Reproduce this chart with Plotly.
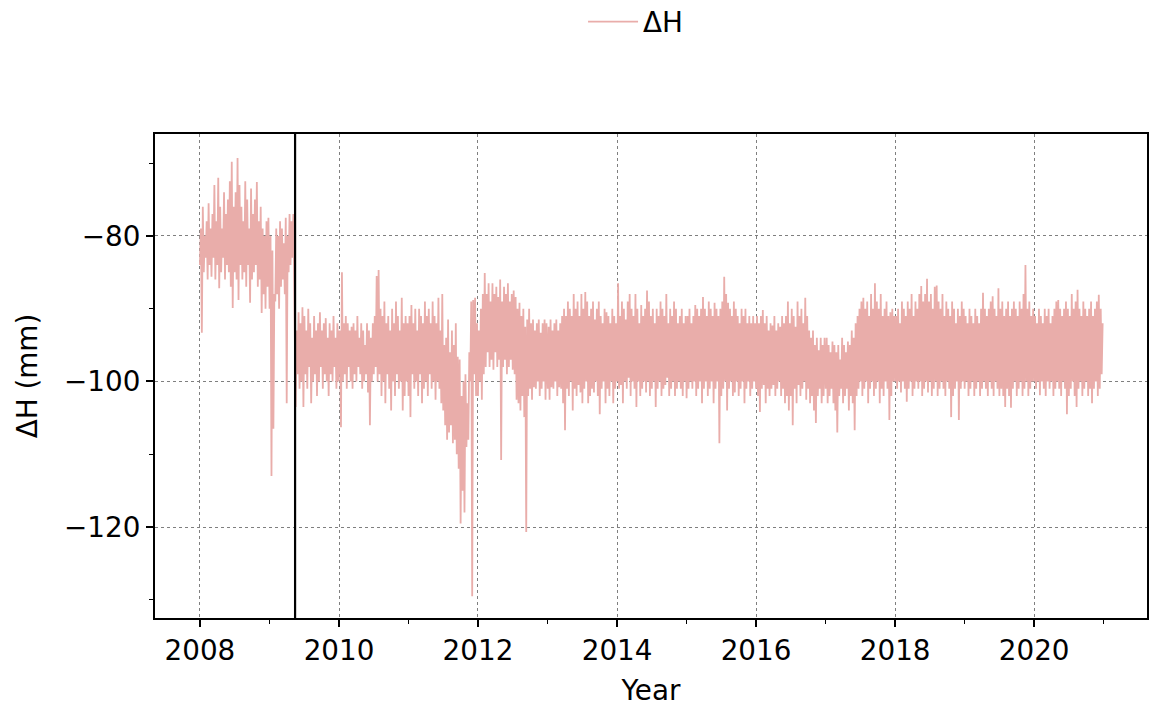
import pandas as pd
import numpy as np
import plotly.graph_objects as go

# ---------------- data: ΔH (mm) ----------------
# For each ~10-day window: the upper (hi_) and lower (lo_) excursion of the series.
hi_2008 = [-79, -76, -80, -78, -75.5, -79, -77, -73, -78, -72, -76, -79,
           -74, -77, -75, -72.5, -69.8, -76, -74, -69.3, -73, -76, -78, -72.5,
           -75, -79, -73.5, -77, -75, -72.6, -78, -76, -79, -80, -78, -77.5]
lo_2008 = [-84, -93.3, -85, -83, -86, -84, -85.6, -83, -86, -84, -87.2, -85,
           -83, -86, -84, -85, -87, -89.9, -85, -86, -88.8, -84, -86, -85,
           -87, -84, -89.2, -86, -85, -84, -87, -86, -90.6, -88, -90, -87]
hi_2009a = [-80, -82, -88, -79, -80, -78, -79, -81, -77.5, -80, -77, -78, -77]
lo_2009a = [-90, -113, -106.5, -89, -88, -90, -87, -86, -88, -103, -85, -84, -83]
hi_2009b = [-93, -90.5, -92, -89.8, -91, -93, -90, -92, -94, -91, -93, -92,
            -90.5, -93, -92, -91.3, -94, -92, -93, -91, -94, -92, -93]
lo_2009b = [-103.5, -99, -101, -100, -103.5, -99, -101, -98, -103, -100, -99, -102,
            -100, -98, -101, -99, -100, -102, -99, -100, -98, -101, -100]
hi_2010 = [-93, -85, -92, -91, -92, -93, -92.5, -92, -93, -91, -94, -92,
           -93, -95, -92, -93, -94, -92, -91, -85.5, -84.7, -90, -91, -89,
           -92, -91, -93, -90, -92, -89, -91, -93, -88.5, -92, -91, -92]
lo_2010 = [-99, -106.3, -100, -99, -101, -98, -100, -101, -99, -100, -98, -99,
           -101, -100, -99, -101.5, -106, -100, -99, -98, -100, -99, -102, -100,
           -103, -99, -101, -104, -100, -102, -99, -101, -100, -104, -102, -100]
hi_2011 = [-91, -89.5, -92, -90, -93, -90, -91, -92, -89, -91, -90, -92,
           -89, -91, -92, -88.5, -93, -88, -95, -94, -91.5, -96, -93, -95,
           -92, -96.6, -97, -102, -100, -99, -103, -96, -89, -88.8, -88.5, -92]
lo_2011 = [-102, -104.9, -99, -101, -100, -102, -99, -103, -101, -100, -102, -99,
           -101, -100, -102.5, -100, -101, -103, -104, -106, -108, -107, -106, -108.5,
           -108, -110, -112, -119.5, -115, -118, -109, -108, -100, -129.5, -99, -102]
hi_2012 = [-93, -90, -88, -85.1, -88, -86.5, -89, -86.5, -88, -87, -88.4, -86,
           -89, -87, -88, -86.5, -89, -88, -87.5, -88.4, -90, -89.2, -91, -90,
           -92.5, -91.5, -90, -92, -91.5, -93, -92, -91.5, -93.3, -92, -91.5, -92]
lo_2012 = [-102, -100, -102.5, -99, -98, -96, -98, -97, -98.4, -96, -98, -97,
           -110.8, -98, -97, -99, -98, -97, -98.4, -99, -102.5, -103, -104, -102,
           -104.9, -120.7, -102, -101, -102.5, -100.8, -101, -100, -102, -101, -100, -102.5]
hi_2013 = [-92.5, -91.5, -93, -92, -91.5, -93, -92, -91, -90, -91, -89, -90,
           -91, -88, -90, -89, -91, -88, -90, -87.7, -89, -91, -90, -89,
           -91.5, -90, -89, -91, -92, -90, -90.5, -91, -92, -90, -91, -92]
lo_2013 = [-101, -102.5, -100.8, -101, -100, -102, -100.8, -101, -103, -106.7, -101, -102,
           -100, -104, -101, -102, -100.5, -101.5, -103, -101, -100, -103, -102, -101,
           -101.5, -100, -102, -104.5, -101, -100, -103, -101, -102, -100, -103, -101]
hi_2014 = [-86.5, -91, -89, -90, -91.5, -89, -88, -90, -91, -88, -90, -92,
           -89.5, -91, -90, -87.5, -89, -91, -90, -92, -90, -91, -89, -90,
           -91, -88, -92, -90, -91, -89, -90, -92, -91, -90, -92, -91]
lo_2014 = [-100, -101, -100.5, -103, -100, -101, -99.5, -102, -100, -101, -103.5, -100,
           -102, -101, -100, -101.5, -100, -102, -101, -100, -103.5, -101, -100, -102,
           -101, -100.5, -99.5, -102, -101, -100, -102, -101, -100, -101, -102, -100]
hi_2015 = [-91, -90, -92, -91, -89.5, -90, -91, -90, -88.4, -90, -91, -89,
           -90, -91, -89.2, -90, -91, -90, -89, -85.6, -88, -89.2, -90, -91,
           -89, -90, -91, -92, -90, -91, -90, -92, -91, -92, -91, -92]
lo_2015 = [-102.3, -101, -100, -101, -100, -102, -101, -100, -103, -101, -100, -102,
           -101, -100, -103, -101, -100, -108.5, -102, -101, -100, -104, -101, -100,
           -102, -101.5, -100, -102, -101, -100, -103, -101, -100, -102, -101, -100]
hi_2016 = [-91, -92, -91, -90.2, -92, -91, -93, -92, -92.3, -91, -93, -92,
           -92.5, -91, -92, -91, -89, -92, -90, -91, -92.5, -89, -91, -90,
           -92, -88.5, -91, -93, -94, -93, -95, -94, -95.7, -94, -95, -94]
lo_2016 = [-101, -102, -104.2, -101, -100.5, -103, -101, -102, -101, -100.5, -102, -101,
           -100, -102, -101, -103, -102, -104, -102, -106, -101, -103, -100.5, -102,
           -101, -100, -102.5, -101, -103, -102, -104, -105.7, -102, -101, -103, -102]
hi_2017 = [-94, -95, -96, -94.5, -95, -96, -95, -97, -94, -95, -96, -94.5,
           -95, -93, -94, -92, -91, -90, -89, -88.5, -90, -89, -91, -88,
           -90, -86.5, -89, -90, -88, -91, -90, -89, -91, -90.5, -90, -91]
lo_2017 = [-101, -103, -102, -101, -103, -104, -107, -102, -101, -103, -102, -101,
           -104, -102, -103, -106.7, -102, -101, -100, -102, -101, -100, -103, -101,
           -100, -102, -101, -100, -103, -101, -102, -100, -101, -105.3, -102, -100]
hi_2018 = [-91, -90, -92, -89, -90, -91, -89, -90, -88, -91, -89, -90,
           -88, -86.9, -89, -88, -85.9, -89, -88, -90, -87, -86.8, -89, -90,
           -88, -91, -89, -90, -91, -89, -90, -92, -90, -91, -89, -90]
lo_2018 = [-100, -101, -100, -101.5, -100, -101, -102.8, -101, -100, -102, -101, -100,
           -101, -100, -102, -101, -100, -101.5, -100, -102, -101, -100, -102, -101,
           -100, -101, -102, -100, -101, -104.9, -102, -101, -100, -105.3, -101, -100]
hi_2019 = [-91, -92, -90, -91, -92, -90, -91, -92, -90, -87.8, -90, -91,
           -90, -89, -88.3, -90, -91, -87.2, -90, -89, -91, -90, -89, -91,
           -90, -89, -90, -91, -89, -90, -88, -84, -90, -89, -91, -90]
lo_2019 = [-101, -100, -102, -101, -100, -102, -101, -100, -102, -101, -100, -101,
           -102, -100, -101, -102, -100, -101, -102, -101, -102, -103.5, -101, -102,
           -103.6, -101, -100, -102, -101, -100, -102, -101, -100, -102, -101, -100]
hi_2020 = [-91, -92, -90, -91, -92, -90, -91, -90, -92, -91, -90, -89,
           -88.8, -90, -91, -90, -89, -90, -91, -88, -90, -89, -87.4, -90,
           -91, -89, -90, -91, -90, -89, -91, -90, -89, -88.1, -90, -92]
lo_2020 = [-100, -101, -100, -101.9, -100, -101, -102, -100, -101, -100, -102, -101,
           -100, -101, -102, -100, -101, -104.5, -102, -101, -100, -102, -103.5, -101,
           -100, -102, -101, -100, -102, -101, -103, -101, -100, -102, -101, -99]

split_date = "2009-05-15"          # vertical reference line
x_tick_years = list(range(2008, 2021, 2))
x_minor_years = list(range(2009, 2022, 2))
y_tick_vals = [-120, -100, -80]
y_tick_text = ["\u2212120", "\u2212100", "\u221280"]
y_minor_vals = [-130, -110, -90, -70]

# ---------------- build the series (lo/hi alternate inside each window) ----------------
dates, values = [], []

def add_block(start, step_days, hi, lo):
    start = pd.Timestamp(start)
    for k, (h, l) in enumerate(zip(hi, lo)):
        t0 = start + pd.Timedelta(days=step_days * k)
        dates.append(t0)
        values.append(l)
        dates.append(t0 + pd.Timedelta(days=step_days / 2))
        values.append(h)

add_block("2008-01-01", 365 / 36, hi_2008, lo_2008)
add_block("2009-01-01", 10.0, hi_2009a, lo_2009a)
add_block("2009-05-18", 10.2, hi_2009b, lo_2009b)
for yr, hi, lo in [(2010, hi_2010, lo_2010), (2011, hi_2011, lo_2011),
                   (2012, hi_2012, lo_2012), (2013, hi_2013, lo_2013),
                   (2014, hi_2014, lo_2014), (2015, hi_2015, lo_2015),
                   (2016, hi_2016, lo_2016), (2017, hi_2017, lo_2017),
                   (2018, hi_2018, lo_2018), (2019, hi_2019, lo_2019),
                   (2020, hi_2020, lo_2020)]:
    add_block(f"{yr}-01-01", 365 / 36, hi, lo)

line_color = "#e9adaa"
font_family = "DejaVu Sans"
fs = 27.8

fig = go.Figure()
fig.add_trace(go.Scatter(x=dates, y=values, mode="lines", name="\u0394H",
                         line=dict(color=line_color, width=1.8, simplify=False)))

fig.add_shape(type="line", x0=split_date, x1=split_date, xref="x",
              y0=0, y1=1, yref="paper", line=dict(color="black", width=2.2))

axis_common = dict(showline=True, linecolor="black", linewidth=2, mirror=True,
                   ticks="outside", ticklen=7, tickwidth=1.6, tickcolor="black",
                   showgrid=True, gridcolor="#7f7f7f", gridwidth=0.8, griddash="dot",
                   zeroline=False, automargin=False,
                   tickfont=dict(family=font_family, size=fs, color="black"))

fig.update_xaxes(type="date", range=["2007-05-10", "2021-08-16"],
                 tickvals=[f"{y}-01-01" for y in x_tick_years],
                 ticktext=[str(y) for y in x_tick_years],
                 minor=dict(tickvals=[f"{y}-01-01" for y in x_minor_years],
                            ticklen=4, tickwidth=1.2, tickcolor="black", showgrid=False,
                            ticks="outside"),
                 title=dict(text="Year", font=dict(family=font_family, size=fs, color="black"),
                            standoff=16),
                 **axis_common)
fig.update_yaxes(range=[-132.5, -66.0], tickvals=y_tick_vals, ticktext=y_tick_text,
                 minor=dict(tickvals=y_minor_vals, ticklen=4, tickwidth=1.2,
                            tickcolor="black", showgrid=False, ticks="outside"),
                 title=dict(text="\u0394H (mm)", font=dict(family=font_family, size=fs, color="black"),
                            standoff=18),
                 **axis_common)

fig.update_layout(width=1150, height=707, autosize=False,
                  margin=dict(l=155, r=3, t=134, b=89, autoexpand=False),
                  plot_bgcolor="white", paper_bgcolor="white",
                  font=dict(family=font_family, size=fs, color="black"),
                  showlegend=True,
                  legend=dict(orientation="h", x=0.4315, xanchor="left",
                              y=1.2314, yanchor="middle", itemwidth=50,
                              font=dict(family=font_family, size=fs, color="black"),
                              bgcolor="rgba(0,0,0,0)"))

# remove the browser's default page margin so the 1150x707 figure fills the window exactly
page_fix = ("document.body.style.margin='0';document.body.style.padding='0';"
            "document.body.style.overflow='hidden';")
fig.write_html("out.html", post_script=page_fix, config={"displayModeBar": False})
